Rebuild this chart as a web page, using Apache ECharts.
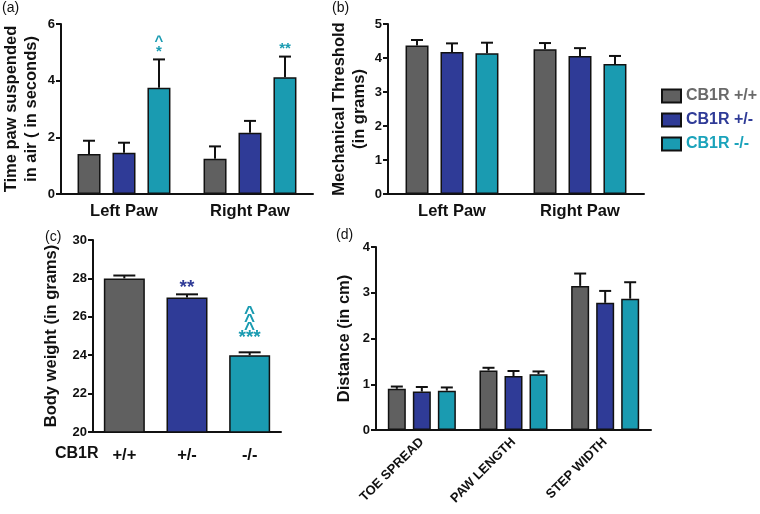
<!DOCTYPE html>
<html>
<head>
<meta charset="utf-8">
<script src="https://cdn.jsdelivr.net/npm/echarts@6/dist/echarts.min.js"></script>
<style>
  html, body { margin: 0; padding: 0; background: #fff; }
  #main { width: 760px; height: 514px; }
</style>
</head>
<body>
<div id="main"></div>
<script>
// genotypes
var genotypes = ['CB1R +/+', 'CB1R +/-', 'CB1R -/-'];
var colors = ['#606060', '#2f3b97', '#1a9bb1'];

// (a) time paw suspended in air
var pawCats = ['Left Paw', 'Right Paw'];
var suspMean = [[1.41, 1.24], [1.46, 2.16], [3.75, 4.12]];
var suspSem = [[0.47, 0.44], [0.35, 0.42], [1.0, 0.73]];
var suspStars = [['', ''], ['', ''], ['^\n*', '**']];

// (b) mechanical threshold
var threshMean = [[4.37, 4.26], [4.18, 4.06], [4.14, 3.82]];
var threshSem = [[0.16, 0.18], [0.25, 0.23], [0.31, 0.24]];

// (c) body weight
var weightCats = ['+/+', '+/-', '-/-'];
var weightMean = [28.0, 27.0, 24.0];
var weightSem = [0.15, 0.17, 0.15];
var weightStars = ['', '**', '^\n^\n^\n***'];

// (d) gait
var gaitCats = ['TOE SPREAD', 'PAW LENGTH', 'STEP WIDTH'];
var gaitMean = [[0.9, 1.30, 3.15], [0.84, 1.18, 2.78], [0.86, 1.22, 2.87]];
var gaitSem = [[0.05, 0.06, 0.27], [0.10, 0.11, 0.26], [0.07, 0.06, 0.36]];

var FONT = '"Liberation Sans", Arial, sans-serif';

var chart = echarts.init(document.getElementById('main'));

// whisker (upper only) + optional annotation text
function errSeries(grid, mean, sem, offset, color, stars) {
  return {
    type: 'custom',
    xAxisIndex: grid, yAxisIndex: grid,
    z: 1,
    silent: true,
    data: mean.map(function (v, i) { return [i, v, sem[i]]; }),
    renderItem: function (params, api) {
      var b = api.coord([api.value(0), api.value(1)]);
      var t = api.coord([api.value(0), api.value(1) + api.value(2)]);
      var x = b[0] + offset;
      var children = [
        { type: 'line', shape: { x1: x, y1: b[1], x2: x, y2: t[1] }, style: { stroke: '#111', lineWidth: 2 } },
        { type: 'line', shape: { x1: x - 6, y1: t[1], x2: x + 6, y2: t[1] }, style: { stroke: '#111', lineWidth: 2 } }
      ];
      var s = stars ? stars[params.dataIndex] : '';
      if (s) {
        children.push({
          type: 'text',
          style: {
            text: s, x: x, y: t[1] - 3,
            align: 'center', verticalAlign: 'bottom',
            fill: color, font: 'bold 15px ' + FONT, lineHeight: 10
          }
        });
      }
      return { type: 'group', children: children };
    }
  };
}

function xAxisBase(grid, cats, extra) {
  var ax = {
    type: 'category', gridIndex: grid, data: cats,
    axisLine: { lineStyle: { color: '#111', width: 2 } },
    axisTick: { alignWithLabel: true, length: 5, lineStyle: { color: '#111', width: 2 } },
    axisLabel: { color: '#111', fontWeight: 'bold', fontSize: 16.5, fontFamily: FONT, margin: 9 }
  };
  if (extra) {
    for (var k in extra) ax.axisLabel[k] = extra[k];
  }
  return ax;
}

function yAxisBase(grid, min, max, interval, name, gap) {
  return {
    type: 'value', gridIndex: grid, min: min, max: max, interval: interval,
    name: name, nameLocation: 'middle', nameGap: gap, nameRotate: 90,
    nameTextStyle: { color: '#111', fontWeight: 'bold', fontSize: 16.5, fontFamily: FONT, lineHeight: 20 },
    axisLine: { show: true, lineStyle: { color: '#111', width: 2 } },
    axisTick: { show: true, length: 5, lineStyle: { color: '#111', width: 2 } },
    splitLine: { show: false },
    axisLabel: { color: '#111', fontWeight: 'bold', fontSize: 13, fontFamily: FONT, margin: 6 }
  };
}

var barStyle = function (c) {
  return { color: c, borderColor: '#111', borderWidth: 1.5 };
};

var series = [];
// (a) grid 0
genotypes.forEach(function (g, k) {
  series.push({
    name: g, type: 'bar', xAxisIndex: 0, yAxisIndex: 0,
    barWidth: 23, barGap: '52%', z: 2,
    itemStyle: barStyle(colors[k]),
    data: suspMean[k]
  });
});
genotypes.forEach(function (g, k) {
  series.push(errSeries(0, suspMean[k], suspSem[k], (k - 1) * 35, colors[2], suspStars[k]));
});
// (b) grid 1
genotypes.forEach(function (g, k) {
  series.push({
    name: g, type: 'bar', xAxisIndex: 1, yAxisIndex: 1,
    barWidth: 23, barGap: '52%', z: 2,
    itemStyle: barStyle(colors[k]),
    data: threshMean[k]
  });
});
genotypes.forEach(function (g, k) {
  series.push(errSeries(1, threshMean[k], threshSem[k], (k - 1) * 35, colors[k], null));
});
// (c) grid 2
series.push({
  name: 'Body weight', type: 'bar', xAxisIndex: 2, yAxisIndex: 2,
  barWidth: 41, z: 2,
  data: weightMean.map(function (v, i) {
    return { value: v, itemStyle: barStyle(colors[i]) };
  })
});
series.push({
  type: 'custom', xAxisIndex: 2, yAxisIndex: 2, z: 1, silent: true,
  data: weightMean.map(function (v, i) { return [i, v, weightSem[i]]; }),
  renderItem: function (params, api) {
    var b = api.coord([api.value(0), api.value(1)]);
    var t = api.coord([api.value(0), api.value(1) + api.value(2)]);
    var x = b[0];
    var children = [
      { type: 'line', shape: { x1: x, y1: b[1], x2: x, y2: t[1] }, style: { stroke: '#111', lineWidth: 2 } },
      { type: 'line', shape: { x1: x - 11, y1: t[1], x2: x + 11, y2: t[1] }, style: { stroke: '#111', lineWidth: 2 } }
    ];
    var s = weightStars[params.dataIndex];
    if (s) {
      // stacked carets sit a little higher above the bar
      var lift = s.indexOf('\n') >= 0 ? 11 : 3;
      children.push({
        type: 'text',
        style: {
          text: s, x: x, y: t[1] - lift, align: 'center', verticalAlign: 'bottom',
          fill: colors[params.dataIndex], font: 'bold 19px ' + FONT, lineHeight: 8
        }
      });
    }
    return { type: 'group', children: children };
  }
});
// (d) grid 3
genotypes.forEach(function (g, k) {
  series.push({
    name: g, type: 'bar', xAxisIndex: 3, yAxisIndex: 3,
    barWidth: 18, barGap: '39%', z: 2,
    itemStyle: barStyle(colors[k]),
    data: gaitMean[k]
  });
});
genotypes.forEach(function (g, k) {
  series.push(errSeries(3, gaitMean[k], gaitSem[k], (k - 1) * 25, colors[k], null));
});

var panelTitle = function (txt, x, y) {
  return { type: 'text', left: x, top: y, style: { text: txt, fill: '#111', font: '14px ' + FONT } };
};

var option = {
  backgroundColor: '#fff',
  animation: false,
  grid: [
    { left: 57, top: 24, width: 256, height: 170 },
    { left: 388, top: 24, width: 256, height: 170 },
    { left: 93, top: 240, width: 188, height: 192 },
    { left: 376, top: 247, width: 275, height: 183 }
  ],
  legend: {
    orient: 'vertical', left: 656, top: 83, itemWidth: 19, itemHeight: 13, itemGap: 8,
    icon: 'rect',
    data: [
      { name: genotypes[0], textStyle: { color: '#6a6a6a' } },
      { name: genotypes[1], textStyle: { color: '#2f3b97' } },
      { name: genotypes[2], textStyle: { color: '#1ba3bb' } }
    ],
    textStyle: { fontWeight: 'bold', fontSize: 16, fontFamily: FONT }
  },
  xAxis: [
    xAxisBase(0, pawCats),
    xAxisBase(1, pawCats),
    xAxisBase(2, weightCats, { margin: 15 }),
    xAxisBase(3, gaitCats, { rotate: 45, fontSize: 13, margin: 10 })
  ],
  yAxis: [
    yAxisBase(0, 0, 6, 2, 'Time paw suspended\nin air ( in seconds)', 20),
    yAxisBase(1, 0, 5, 1, 'Mechanical Threshold\n(in grams)', 19),
    yAxisBase(2, 20, 30, 2, 'Body weight (in grams)', 32),
    yAxisBase(3, 0, 4, 1, 'Distance (in cm)', 22)
  ],
  graphic: [
    panelTitle('(a)', 2, 1),
    panelTitle('(b)', 332, 1),
    panelTitle('(c)', 45, 230),
    panelTitle('(d)', 336, 228),
    { type: 'text', left: 55, top: 446, style: { text: 'CB1R', fill: '#111', font: 'bold 16px ' + FONT } }
  ],
  series: series
};

chart.setOption(option);
</script>
</body>
</html>
